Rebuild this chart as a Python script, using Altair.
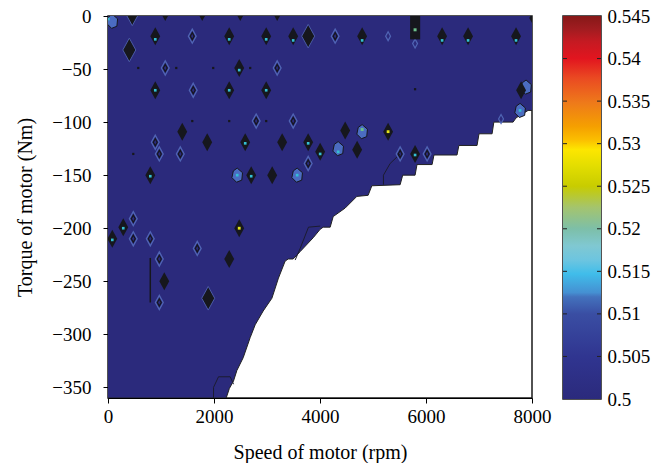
import altair as alt
import pandas as pd

# ---- operating region: lower torque limit vs speed (staircase edge) ----
bnd_speed = [0, 2230, 2290, 2368, 2432, 2551, 2683, 2777, 2928, 3092, 3216, 3342, 3400, 3494,
             3626, 3871, 4003, 4060, 4192, 4249, 4475, 4695, 4908, 4978, 5512, 5560, 5794, 5830,
             6115, 6150, 6585, 6620, 6963, 7000, 7247, 7280, 7643, 7700, 7926, 8000]
bnd_torque = [-360, -360, -351, -344, -334, -322, -303, -291, -278, -266, -247, -231, -229, -229,
              -222, -209, -201, -199, -199, -189, -181, -170, -169, -160, -159, -150, -150, -140,
              -140, -131, -131, -122, -122, -111, -111, -100, -100, -96, -89, -89]
top_torque = 0

# ---- local efficiency spikes (contour clusters) ----
dark_speed = [892, 2287, 2985, 3494, 4795, 6304, 6794, 7699, 2476, 892, 2287, 2985, 1401, 1872,
              2589, 3286, 3777, 4475, 5285, 4701, 4003, 5794, 798, 2702, 3098, 288, 81, 2476,
              2287, 1062, 7794]
dark_torque = [-19, -19, -19, -19, -19, -19, -19, -19, -49, -70, -70, -70, -109, -119,
               -119, -119, -119, -108, -109, -126, -128, -130, -150, -150, -150, -199, -210, -200,
               -229, -250, -70]
big_speed = [402, 3777, 1891, 458]
big_torque = [-32, -19, -266, 2]
edge_speed = [1080, 1778, 2495, 3192, 8000]
edge_torque = [0, 0, 0, 0, -2]
ring_speed = [1590, 4286, 1080, 3192, 1608, 2796, 3494, 892, 968, 1364, 3777, 5512, 6021, 477,
              477, 798, 1684, 968, 968]
ring_torque = [-19, -19, -49, -49, -70, -99, -99, -119, -130, -130, -139, -130, -130, -191,
               -210, -210, -219, -229, -270]
sring_speed = [5285, 5794, 7416]
sring_torque = [-19, -26, -97]
dot_speed = [571, 1288, 1985, 2683, 1590, 2287, 2985, 477, 5794]
dot_torque = [-49, -49, -49, -49, -99, -99, -99, -130, -69]
blob_speed = [7888, 7775, 4795, 4343, 2438, 3569, 81]
blob_torque = [-67, -89, -109, -125, -150, -150, -5]
cyan_speed = [892, 2287, 2985, 3494, 4795, 6304, 6794, 7699, 2476, 892, 2287, 2985, 2589, 3777,
              798, 2702, 288, 81, 5794, 4003, 2438, 4343, 7775, 6, 3569]
cyan_torque = [-22, -22, -22, -23, -23, -23, -23, -23, -51, -70, -70, -70, -120, -120,
               -151, -151, -200, -211, -131, -130, -150, -128, -89, -3, -150]
green_speed = [5794, 4795]
green_torque = [-13, -107]
yellow_speed = [5285, 2476]
yellow_torque = [-109, -200]
bar_speed = [5700]
bar_speed2 = [5890]
bar_torque = [0]
bar_torque2 = [-22]
vline_speed = [798]
vline_torque = [-228]
vline_torque2 = [-270]
cont_id = [1, 1, 1, 1, 1, 2, 2, 2, 2, 3, 3, 3, 3]
cont_speed = [1991, 1991, 2085, 2306, 2369, 3531, 3626, 3783, 4003, 5197, 5197, 5323, 5512]
cont_torque = [-361, -350, -340, -340, -347, -230, -219, -199, -198, -159, -150, -139, -130]

# ---- colour bar ----
cbar_lo = [0.5]
cbar_hi = [0.545]
cbar_ticks = [0.5, 0.505, 0.51, 0.515, 0.52, 0.525, 0.53, 0.535, 0.54, 0.545]
jet_stops = [0.5, 0.505, 0.51, 0.512, 0.5125, 0.5147, 0.5163, 0.518, 0.52, 0.5225, 0.525,
             0.5273, 0.5293, 0.5305, 0.532, 0.5348, 0.5377, 0.54, 0.542, 0.5435, 0.545]
jet_colors = ["#2b2a7c", "#303590", "#3a4ea3", "#4372bd", "#4590d2", "#40bdea", "#6cc5e0",
              "#80c8d2", "#7dbfa8", "#a4c46e", "#c8cc00", "#e2dd00", "#fde600", "#fbbd00",
              "#f5a000", "#ee7a1a", "#ea4a22", "#e2151f", "#c51a22", "#a01c20", "#861818"]

FONT = "Liberation Serif"
DARK = "#16171d"
NAVY = jet_colors[0]
DIAMOND = "M0,-1L0.55,0L0,1L-0.55,0Z"
BLOB = "M0,-1L0.75,-0.35L0.65,0.7L-0.1,1L-0.75,0.35L-0.55,-0.6Z"

xsc = alt.Scale(domain=[0, 8000], nice=False, zero=False)
ysc = alt.Scale(domain=[-360, 0], nice=False, zero=False)


def X():
    return alt.X("speed:Q", scale=xsc,
                 axis=alt.Axis(values=[0, 2000, 4000, 6000, 8000], format="d",
                               title="Speed of motor (rpm)", labelFlush=False,
                               labelPadding=4, titlePadding=16))


def Y():
    return alt.Y("torque:Q", scale=ysc,
                 axis=alt.Axis(values=[0, -50, -100, -150, -200, -250, -300, -350],
                               title="Torque of motor (Nm)", labelPadding=12, titlePadding=16))


def pts(s, t):
    return pd.DataFrame({"speed": s, "torque": t})


region = pd.DataFrame({"speed": bnd_speed, "torque": bnd_torque,
                       "top": [top_torque] * len(bnd_speed)})

area = alt.Chart(region).mark_area(clip=True, interpolate="linear", color=NAVY, opacity=1).encode(
    x=X(), y=Y(), y2="top:Q")

edge = alt.Chart(region).mark_line(clip=True, color="#222", strokeWidth=1).encode(x=X(), y=Y())

cont = alt.Chart(pd.DataFrame({"speed": cont_speed, "torque": cont_torque, "cid": cont_id})).mark_line(
    clip=True, color="#1c1c30", strokeWidth=1).encode(x=X(), y=Y(), detail="cid:N")

bar = alt.Chart(pd.DataFrame({"speed": bar_speed, "s2": bar_speed2, "torque": bar_torque,
                              "t2": bar_torque2})).mark_rect(clip=True, color=DARK).encode(
    x=X(), x2="s2:Q", y=Y(), y2="t2:Q")

vline = alt.Chart(pd.DataFrame({"speed": vline_speed, "torque": vline_torque,
                                "t2": vline_torque2})).mark_rule(
    clip=True, color=DARK, strokeWidth=1.5).encode(x=X(), y=Y(), y2="t2:Q")

rings = alt.Chart(pts(ring_speed, ring_torque)).mark_point(
    clip=True, shape=DIAMOND, size=200, filled=False, stroke="#5065b4", strokeWidth=1.3,
    opacity=1).encode(x=X(), y=Y())
ring_core = alt.Chart(pts(ring_speed, ring_torque)).mark_point(
    clip=True, shape=DIAMOND, size=50, filled=False, stroke=DARK, strokeWidth=1.2,
    opacity=1).encode(x=X(), y=Y())
srings = alt.Chart(pts(sring_speed, sring_torque)).mark_point(
    clip=True, shape=DIAMOND, size=80, filled=False, stroke="#5065b4", strokeWidth=1.2,
    opacity=1).encode(x=X(), y=Y())
blobs = alt.Chart(pts(blob_speed, blob_torque)).mark_point(
    clip=True, shape=BLOB, size=200, filled=True, fill="#4b6cc1", stroke=DARK, strokeWidth=1,
    opacity=1).encode(x=X(), y=Y())
darks = alt.Chart(pts(dark_speed, dark_torque)).mark_point(
    clip=True, shape=DIAMOND, size=324, filled=True, color=DARK, opacity=1).encode(x=X(), y=Y())
bigs = alt.Chart(pts(big_speed, big_torque)).mark_point(
    clip=True, shape=DIAMOND, size=560, filled=True, color=DARK, stroke="#4a5aa8",
    strokeWidth=1, opacity=1).encode(x=X(), y=Y())
edges = alt.Chart(pts(edge_speed, edge_torque)).mark_point(
    clip=True, shape=DIAMOND, size=100, filled=True, color=DARK, opacity=1).encode(x=X(), y=Y())
dots = alt.Chart(pts(dot_speed, dot_torque)).mark_square(
    clip=True, size=5, color=DARK, opacity=1).encode(x=X(), y=Y())
cyans = alt.Chart(pts(cyan_speed, cyan_torque)).mark_square(
    clip=True, size=7, color="#34c0d4", opacity=1).encode(x=X(), y=Y())
greens = alt.Chart(pts(green_speed, green_torque)).mark_square(
    clip=True, size=9, color="#6cc08a", opacity=1).encode(x=X(), y=Y())
yellows = alt.Chart(pts(yellow_speed, yellow_torque)).mark_square(
    clip=True, size=8, color="#e5e51a", opacity=1).encode(x=X(), y=Y())

main = alt.layer(area, edge, cont, rings, ring_core, srings, blobs, darks, bigs, edges, bar,
                 vline, dots, cyans, greens, yellows).properties(width=424, height=382)

# colour bar: gradient rect on the efficiency scale, with inward ticks on both edges
cbsc = alt.Scale(domain=[0.5, 0.545], nice=False, zero=False)
grad = alt.Gradient(
    gradient="linear", x1=0, x2=0, y1=1, y2=0,
    stops=[alt.GradientStop(offset=(v - 0.5) / 0.045, color=c) for v, c in zip(jet_stops, jet_colors)])
cb_rect = alt.Chart(pd.DataFrame({"lo": cbar_lo, "hi": cbar_hi})).mark_rect(color=grad).encode(
    y=alt.Y("lo:Q", scale=cbsc,
            axis=alt.Axis(orient="right", values=cbar_ticks, format=".3~f", title=None,
                          ticks=False, domain=False, labelPadding=6)),
    y2="hi:Q")
tick_df = pd.DataFrame({"lo": cbar_ticks[1:-1]})
cb_tl = alt.Chart(tick_df).mark_rule(color="#222", strokeWidth=1).encode(
    y=alt.Y("lo:Q", scale=cbsc), x=alt.value(0), x2=alt.value(4))
cb_tr = alt.Chart(tick_df).mark_rule(color="#222", strokeWidth=1).encode(
    y=alt.Y("lo:Q", scale=cbsc), x=alt.value(34), x2=alt.value(38))
cbar = alt.layer(cb_rect, cb_tl, cb_tr).properties(width=38, height=383)

chart = alt.hconcat(main, cbar, spacing=31, bounds="flush").properties(
    padding={"left": 7, "top": -2, "right": 5, "bottom": 0},
).configure_view(stroke="#1a1a1a", strokeWidth=1.5).configure_axis(
    labelFont=FONT, labelFontSize=19, labelColor="black",
    titleFont=FONT, titleFontSize=20, titleFontWeight="normal", titleColor="black",
    tickColor="black", domainColor="black", tickSize=5, grid=False,
)

chart.save("out.html", embed_options={"renderer": "svg", "actions": False})
